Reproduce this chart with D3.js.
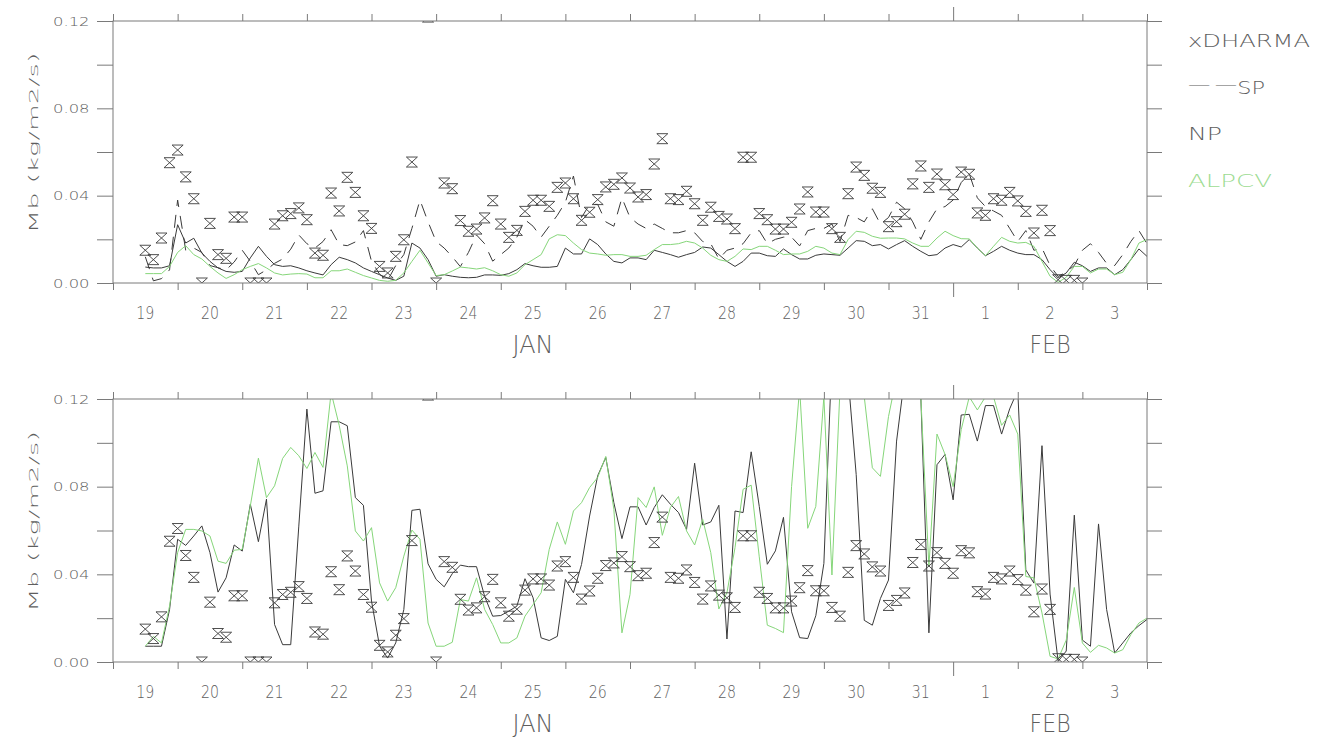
<!DOCTYPE html>
<html>
<head>
<meta charset="utf-8">
<script src="https://cdn.jsdelivr.net/npm/d3@7"></script>
<style>
  body { margin: 0; background: #ffffff; }
  svg text { font-family: "DejaVu Sans", "Liberation Sans", sans-serif; font-weight: 200; }
</style>
</head>
<body>
<svg id="chart" width="1326" height="737"></svg>
<script>
// ---- 3-hourly series, TWP-ICE period, starting 19 Jan 12 UTC ----
const dayLabels = ["19","20","21","22","23","24","25","26","27","28","29","30","31","1","2","3"];
const monthLabels = ["JAN","FEB"];
const yTickValues = [0, 0.02, 0.04, 0.06, 0.08, 0.10, 0.12];
const yTickLabels = ["0.00", "", "0.04", "", "0.08", "", "0.12"];
const legendLabels = ["xDHARMA", "--SP", "NP", "ALPCV"];

// DHARMA reference (same in both panels); null = no value
const dharma = [
  0.015,0.0107,0.0206,0.0551,0.0609,0.0486,0.0386,0,0.0273,0.013,
  0.0113,0.0302,0.0302,0,0,0,0.027,0.0308,0.0318,0.0344,
  0.029,0.0137,0.0127,0.0412,0.033,0.0484,0.0415,0.0308,0.025,0.0076,
  0.0046,0.0122,0.0198,0.0554,null,0.1218,0,0.0458,0.0432,0.0286,
  0.0237,0.0247,0.0298,0.0377,0.027,0.0209,0.0241,0.0328,0.0379,0.0379,
  0.0351,0.0438,0.0458,0.0386,0.0287,0.0324,0.0382,0.044,0.0452,0.0481,
  0.0435,0.0394,0.0405,0.0545,0.0661,0.0386,0.0382,0.042,0.0363,0.0287,
  0.0347,0.0305,0.0293,0.0249,0.0576,0.0576,0.0318,0.029,0.0247,0.0247,
  0.0278,0.0339,0.0417,0.0325,0.0325,0.0249,0.0209,0.0409,0.0531,0.0493,
  0.0434,0.0415,0.0258,0.0281,0.0315,0.0454,0.0536,0.0438,0.0499,0.045,
  0.0405,0.0508,0.0498,0.0321,0.031,0.0386,0.0379,0.0415,0.0376,0.0328,
  0.0229,0.0333,0.024,0.0015,0.0012,0.0012,0,null,null,null,
  null,null,null,null,null
];

// upper panel
const spUpper = [
  0.012,0.001,0.002,0.006,0.038,0.015,0.016,0.014,0.008,0.007,
  0.006,0.0096,0.015,0.0099,0.0038,0.006,0.009,0.011,0.0155,0.022,
  0.018,0.016,0.019,0.0244,0.0176,0.0171,0.0188,0.024,0.01,0.004,
  0.0012,0.008,0.013,0.025,0.038,0.028,0.019,0.016,0.012,0.0075,
  0.014,0.022,0.018,0.010,0.013,0.016,0.021,0.029,0.026,0.021,
  0.026,0.031,0.037,0.049,0.03,0.036,0.036,0.028,0.026,0.039,
  0.03,0.027,0.025,0.027,0.025,0.023,0.023,0.024,0.023,0.019,
  0.018,0.011,0.015,0.016,0.018,0.023,0.024,0.018,0.02,0.021,
  0.021,0.017,0.024,0.025,0.025,0.027,0.019,0.031,0.03,0.028,
  0.034,0.027,0.03,0.037,0.034,0.028,0.02,0.028,0.034,0.035,
  0.038,0.046,0.05,0.039,0.035,0.033,0.031,0.025,0.019,0.024,
  0.015,0.016,0.008,0.003,0.005,0.008,0.015,0.018,0.014,0.009,
  0.008,0.013,0.019,0.024,0.018
];
const npUpper = [
  0.0073,0.0069,0.0069,0.0079,0.0267,0.0183,0.0205,0.0137,0.0099,0.0069,
  0.0053,0.0049,0.0053,0.0115,0.0168,0.0122,0.0084,0.0076,0.0079,0.0069,
  0.0056,0.0046,0.0037,0.0084,0.0118,0.0107,0.0092,0.0069,0.0053,0.0038,
  0.0023,0.0012,0.0031,0.0183,0.016,0.0107,0.0031,0.0038,0.0031,0.0026,
  0.0024,0.0026,0.0037,0.0037,0.0035,0.0043,0.0061,0.0089,0.0079,0.0072,
  0.0072,0.0076,0.016,0.0133,0.0133,0.0202,0.0176,0.0133,0.0099,0.0092,
  0.0115,0.0115,0.0107,0.015,0.014,0.013,0.0118,0.013,0.014,0.0165,
  0.016,0.013,0.0099,0.0076,0.0099,0.0137,0.0137,0.0125,0.0122,0.0156,
  0.013,0.011,0.011,0.0127,0.0133,0.013,0.0127,0.016,0.0194,0.0191,
  0.0171,0.0176,0.0156,0.0176,0.0194,0.0168,0.0145,0.0125,0.013,0.016,
  0.0176,0.0165,0.0199,0.016,0.0125,0.0145,0.0168,0.015,0.0137,0.013,
  0.013,0.0107,0.0061,0.0023,0.0046,0.0095,0.0079,0.0053,0.0069,0.0069,
  0.0038,0.0061,0.0107,0.0156,0.0122
];
const alpcvUpper = [
  0.0043,0.0043,0.0043,0.0076,0.014,0.0171,0.013,0.011,0.0076,0.0046,
  0.0021,0.0038,0.0061,0.0076,0.0089,0.0069,0.0046,0.0037,0.0041,0.0043,
  0.0041,0.0024,0.0024,0.0056,0.0056,0.0064,0.0049,0.0034,0.0023,0.0012,
  0.0008,0.0012,0.0046,0.0099,0.015,0.0092,0.0034,0.0038,0.0055,0.0073,
  0.0069,0.0064,0.007,0.0056,0.0038,0.0031,0.0046,0.0084,0.0107,0.013,
  0.0202,0.0221,0.0217,0.0183,0.0153,0.0137,0.0133,0.0127,0.013,0.013,
  0.0122,0.0122,0.0127,0.0153,0.0176,0.0176,0.018,0.0191,0.0183,0.016,
  0.0127,0.0107,0.0099,0.0122,0.0156,0.0153,0.0168,0.0168,0.015,0.013,
  0.0133,0.0133,0.0145,0.0168,0.016,0.0137,0.013,0.0199,0.0237,0.0232,
  0.0214,0.0205,0.0206,0.0206,0.0202,0.0183,0.0168,0.0168,0.0206,0.0237,
  0.0217,0.0203,0.0202,0.016,0.0125,0.0168,0.0209,0.0191,0.0183,0.0186,
  0.0168,0.0099,0.0031,0.0003,0.0026,0.0076,0.0076,0.0046,0.0064,0.0064,
  0.0038,0.0049,0.0107,0.0183,0.0199
];

// lower panel
const npLower = [
  0.0072,0.0072,0.0072,0.0239,0.056,0.0532,0.0575,0.0621,0.0499,0.0319,
  0.0384,0.0534,0.0506,0.072,0.0549,0.0743,0.0171,0.0079,0.0079,0.062,
  0.1154,0.077,0.0781,0.1096,0.1096,0.1078,0.075,0.0715,0.0278,0.0072,
  0.0018,0.0087,0.0239,0.0692,0.0697,0.0448,0.0377,0.0343,0.0403,0.0442,
  0.0435,0.0435,0.030,0.0209,0.0212,0.0232,0.0255,0.038,0.0293,0.011,
  0.0098,0.0117,0.0377,0.0316,0.0445,0.0666,0.085,0.0933,0.0727,0.0563,
  0.0708,0.0708,0.0625,0.0705,0.0763,0.072,0.0682,0.0605,0.0907,0.0625,
  0.0639,0.0715,0.0105,0.0689,0.0682,0.0959,0.071,0.0446,0.0507,0.066,
  0.0229,0.0111,0.0107,0.0211,0.045,0.14,0.15,0.13,0.0855,0.019,
  0.0168,0.029,0.0374,0.1008,0.13,0.13,0.121,0.0133,0.090,0.0947,
  0.074,0.1127,0.113,0.1008,0.117,0.117,0.104,0.1155,0.124,0.042,
  0.036,0.0987,0.031,0.0003,0.005,0.067,0.010,0.0072,0.063,0.024,
  0.0041,0.0087,0.0133,0.0166,0.0194
];
const alpcvLower = [
  0.0072,0.0117,0.0087,0.0255,0.0499,0.0605,0.0605,0.0598,0.0575,0.046,
  0.045,0.051,0.0514,0.0712,0.093,0.075,0.0804,0.0929,0.0979,0.0941,
  0.0883,0.0956,0.0888,0.123,0.108,0.0895,0.0598,0.0552,0.0613,0.0361,
  0.0278,0.0339,0.0483,0.0602,0.056,0.0178,0.0072,0.0072,0.009,0.0285,
  0.0278,0.0384,0.024,0.0171,0.0087,0.0087,0.011,0.0209,0.0262,0.0316,
  0.0514,0.0639,0.0537,0.0689,0.0727,0.0796,0.0842,0.0938,0.0697,0.0133,
  0.0308,0.075,0.0705,0.0799,0.0578,0.0705,0.0755,0.0598,0.0534,0.0651,
  0.0499,0.0242,0.0316,0.0522,0.0788,0.0807,0.048,0.0168,0.0153,0.0134,
  0.08,0.125,0.061,0.071,0.121,0.0397,0.125,0.13,0.13,0.121,
  0.0886,0.0847,0.112,0.13,0.13,0.13,0.121,0.0435,0.104,0.0947,
  0.080,0.106,0.121,0.115,0.121,0.121,0.108,0.1127,0.104,0.039,
  0.0384,0.0224,0.0026,0.0014,0.010,0.034,0.0087,0.0044,0.0076,0.0064,
  0.0041,0.0056,0.0125,0.0178,0.020
];

// ---- layout ----
const svg = d3.select("#chart");
const plotLeft = 113, plotRight = 1147;
const textColor = "#5e5e5e";
const axisColor = "#7a7a7a";
const darkLine = "#3a3a3a";
const green = "#86d67a";

const t0 = new Date(Date.UTC(2006, 0, 19));
const t1 = new Date(Date.UTC(2006, 1, 4));
const x = d3.scaleUtc().domain([t0, t1]).range([plotLeft, plotRight]);
const times = d3.range(dharma.length).map(i => new Date(Date.UTC(2006, 0, 19, 12) + i * 3 * 3600 * 1000));
const dayStarts = d3.utcDay.range(t0, d3.utcDay.offset(t1, 1));
const dayNoons = dayStarts.slice(0, -1).map(d => d3.utcHour.offset(d, 12));
const monthBoundary = new Date(Date.UTC(2006, 1, 1));
const monthCentres = [
  new Date((t0.getTime() + monthBoundary.getTime()) / 2),
  new Date((monthBoundary.getTime() + t1.getTime()) / 2)
];

// hourglass marker: two triangles meeting at their tips
function hourglass(w, h) {
  return `M${-w},${-h}L${w},${-h}L${-w},${h}L${w},${h}Z`;
}

function stretchedText(g, str, px, py, size, width, anchor, rotate) {
  const t = g.append("text")
    .attr("font-size", size)
    .attr("fill", textColor)
    .attr("text-anchor", anchor)
    .attr("textLength", width)
    .attr("lengthAdjust", "spacingAndGlyphs")
    .text(str);
  if (rotate) t.attr("transform", `translate(${px},${py}) rotate(-90)`);
  else t.attr("x", px).attr("y", py);
  return t;
}

function drawPanel(top, bottom, series, id) {
  const g = svg.append("g");
  const y = d3.scaleLinear().domain([0, 0.12]).range([bottom, top]);

  svg.append("clipPath").attr("id", id)
    .append("rect").attr("x", plotLeft).attr("y", top)
    .attr("width", plotRight - plotLeft).attr("height", bottom - top);

  const line = d3.line()
    .defined(d => d != null)
    .x((d, i) => x(times[i]))
    .y(d => y(d));

  const data = g.append("g").attr("clip-path", `url(#${id})`);
  series.forEach(s => {
    data.append("path")
      .datum(s.values)
      .attr("fill", "none")
      .attr("stroke", s.color)
      .attr("stroke-width", 1)
      .attr("stroke-dasharray", s.dash || null)
      .attr("stroke-linejoin", "round")
      .attr("d", line);
  });

  data.append("g").selectAll("path")
    .data(dharma.map((v, i) => ({ v, t: times[i] })).filter(d => d.v != null))
    .join("path")
    .attr("transform", d => `translate(${x(d.t)},${y(d.v)})`)
    .attr("d", hourglass(5.5, 5))
    .attr("fill", "none")
    .attr("stroke", "#3c3c3c")
    .attr("stroke-width", 0.9);

  // frame
  g.append("rect")
    .attr("x", plotLeft).attr("y", top)
    .attr("width", plotRight - plotLeft).attr("height", bottom - top)
    .attr("fill", "none").attr("stroke", axisColor).attr("stroke-width", 1);

  // value ticks on both sides
  const leftAxis = g.append("g").attr("transform", `translate(${plotLeft},0)`)
    .call(d3.axisLeft(y).tickValues(yTickValues).tickSize(16).tickFormat(""));
  const rightAxis = g.append("g").attr("transform", `translate(${plotRight},0)`)
    .call(d3.axisRight(y).tickValues(yTickValues).tickSize(15).tickFormat(""));
  // day ticks top and bottom
  const bottomAxis = g.append("g").attr("transform", `translate(0,${bottom})`)
    .call(d3.axisBottom(x).tickValues(dayStarts).tickSize(7).tickFormat(""));
  const topAxis = g.append("g").attr("transform", `translate(0,${top})`)
    .call(d3.axisTop(x).tickValues(dayStarts).tickSize(7).tickFormat(""));
  bottomAxis.selectAll(".tick line").filter(d => +d === +monthBoundary).attr("y2", 14);
  topAxis.selectAll(".tick line").filter(d => +d === +monthBoundary).attr("y2", -14);
  [leftAxis, rightAxis, bottomAxis, topAxis].forEach(a => {
    a.select(".domain").remove();
    a.selectAll(".tick line").attr("stroke", axisColor);
  });

  // value labels
  yTickValues.forEach((v, i) => {
    if (yTickLabels[i]) stretchedText(g, yTickLabels[i], 89.5, y(v) + 4.6, 12.5, 36.5, "end");
  });

  // day labels at noon, month labels centred in their visible span
  dayNoons.forEach((d, i) => {
    const lbl = dayLabels[i];
    stretchedText(g, lbl, x(d), bottom + 35.5, 17, lbl.length === 2 ? 18 : 9.5, "middle");
  });
  monthCentres.forEach((d, i) => {
    stretchedText(g, monthLabels[i], x(d), bottom + 69.5, 24, 41, "middle");
  });

  // axis title
  stretchedText(g, "Mb (kg/m2/s)", 37.5, (top + bottom) / 2 - 9, 12.5, 181, "middle", true);
  return y;
}

drawPanel(21, 283, [
  { values: spUpper, color: darkLine, dash: "13,9" },
  { values: npUpper, color: darkLine },
  { values: alpcvUpper, color: green }
], "clip-upper");

drawPanel(399, 662, [
  { values: npLower, color: darkLine },
  { values: alpcvLower, color: green }
], "clip-lower");

// legend; the SP entry's dashes are drawn as long raised strokes
const legend = svg.append("g");
const legendWidths = [122, 77, 34, 84];
legendLabels.forEach((lbl, i) => {
  const ty = 47.3 + i * 46.5;
  if (lbl.startsWith("--")) {
    const t = legend.append("text")
      .attr("x", 1188).attr("y", ty)
      .attr("font-size", 18).attr("fill", textColor)
      .attr("textLength", legendWidths[i]).attr("lengthAdjust", "spacingAndGlyphs");
    t.append("tspan").attr("dy", -3.5).text("\u2014\u2009\u2014");
    t.append("tspan").attr("dy", 3.5).text(lbl.slice(2));
  } else {
    stretchedText(legend, lbl, 1188, ty, 18, legendWidths[i], "start")
      .attr("fill", i === 3 ? "#9ddc92" : textColor);
  }
});
</script>
</body>
</html>
